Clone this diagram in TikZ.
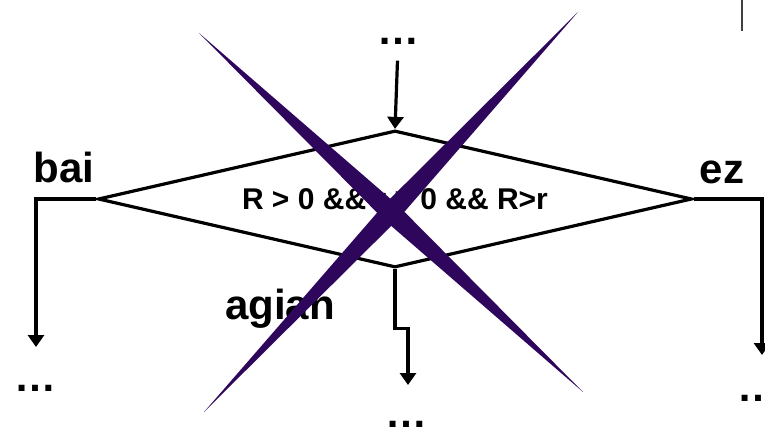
\documentclass[tikz,border=0pt]{standalone}
\usepackage{fontspec}
\setmainfont{Liberation Sans}
\usepackage{xcolor}
\usetikzlibrary{arrows.meta,positioning,shapes.geometric,calc}
\definecolor{crosspurple}{RGB}{46,6,92}

\begin{document}
\begin{tikzpicture}[
  x=1pt, y=-1pt,
  line width=3.2pt,
  cond/.style={diamond, aspect=4.336, draw, minimum width=594pt, minimum height=137pt, inner sep=0pt, font=\fontsize{30}{30}\selectfont\bfseries},
  lbl/.style={anchor=base, inner sep=0pt, font=\fontsize{42}{42}\selectfont\bfseries},
  more/.style={lbl},
  arr/.style={-{Triangle[length=12pt,width=16pt]}},
  stroke/.style={fill=crosspurple, draw=none},
]
\useasboundingbox (0,0) rectangle (765,433);
\node[cond] (dec) at (395,199) {R > 0 \&\& r > 0 \&\& R>r};
\node[more] (dotsT) at (398,45) {…};
\node[more] (dotsB) at (406,427) {…};
\node[more] (dotsL) at (35,391) {…};
\node[more] (dotsR) at (758,401) {…};
\node[lbl] (bai) at (64,182) {bai};
\node[lbl] (ez) at (722,183) {ez};
\node[lbl] (agian) at (280,319) {agian};
\coordinate (baiend) at (36,347);
\coordinate (ezend) at (762,355);
\coordinate (agianend) at (408,385);
\draw[arr, shorten <=14pt] (dotsT.south) -- (dec.north);
\draw[arr] (dec.west) -| (baiend);
\draw[arr] (dec.east) -| (ezend);
\draw[arr] (dec.south) -- ++(0,59) -| (agianend);
\draw[line width=1.2pt, black!75] (742,0) -- (742,31);
\coordinate (xa1) at (199,33);
\coordinate (xa2) at (583,392);
\coordinate (xb1) at (578,12);
\coordinate (xb2) at (204,412);
\coordinate (xam) at ($(xa1)!0.5!(xa2)$);
\coordinate (xbm) at ($(xb1)!0.5!(xb2)$);
\fill[stroke] (xa1) -- ($(xam)!10pt!90:(xa2)$) -- (xa2) -- ($(xam)!10pt!-90:(xa2)$) -- cycle;
\fill[stroke] (xb1) -- ($(xbm)!10pt!90:(xb2)$) -- (xb2) -- ($(xbm)!10pt!-90:(xb2)$) -- cycle;
\end{tikzpicture}
\end{document}
